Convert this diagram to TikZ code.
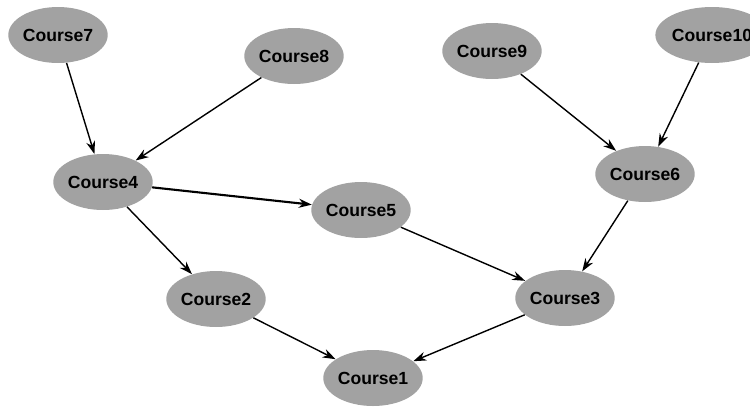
\documentclass[tikz,border=0pt]{standalone}
\usepackage{fontspec}
\setmainfont{Liberation Sans}
\usetikzlibrary{shapes.geometric,arrows.meta}
\definecolor{nodegray}{RGB}{162,162,162}

\begin{document}
\begin{tikzpicture}[x=0.02cm, y=-0.02cm,
    course/.style={ellipse,fill=nodegray,minimum width=1.88cm,minimum height=1.12cm,inner sep=0pt,font=\fontsize{10}{12}\selectfont\bfseries},
    link/.style={-{Stealth[length=2.6mm,width=1.8mm]},thick}]
      \useasboundingbox (0,0) rectangle (750,407);
      \node[course] (c7) at (58,35) {Course7};
      \node[course] (c8) at (294,56) {Course8};
      \node[course] (c9) at (492,51) {Course9};
      \node[course] (c10) at (712,35) {Course10};
      \node[course] (c4) at (103,182) {Course4};
      \node[course] (c5) at (361,210) {Course5};
      \node[course] (c6) at (645,174) {Course6};
      \node[course] (c2) at (216,299) {Course2};
      \node[course] (c3) at (565,298) {Course3};
      \node[course] (c1) at (373,378) {Course1};
      \draw[link] (c7) -- (c4);
      \draw[link] (c8) -- (c4);
      \draw[link,very thick] (c4) -- (c5);
      \draw[link] (c4) -- (c2);
      \draw[link] (c5) -- (c3);
      \draw[link] (c9) -- (c6);
      \draw[link] (c10) -- (c6);
      \draw[link] (c6) -- (c3);
      \draw[link] (c2) -- (c1);
      \draw[link] (c3) -- (c1);
    \end{tikzpicture}
\end{document}
